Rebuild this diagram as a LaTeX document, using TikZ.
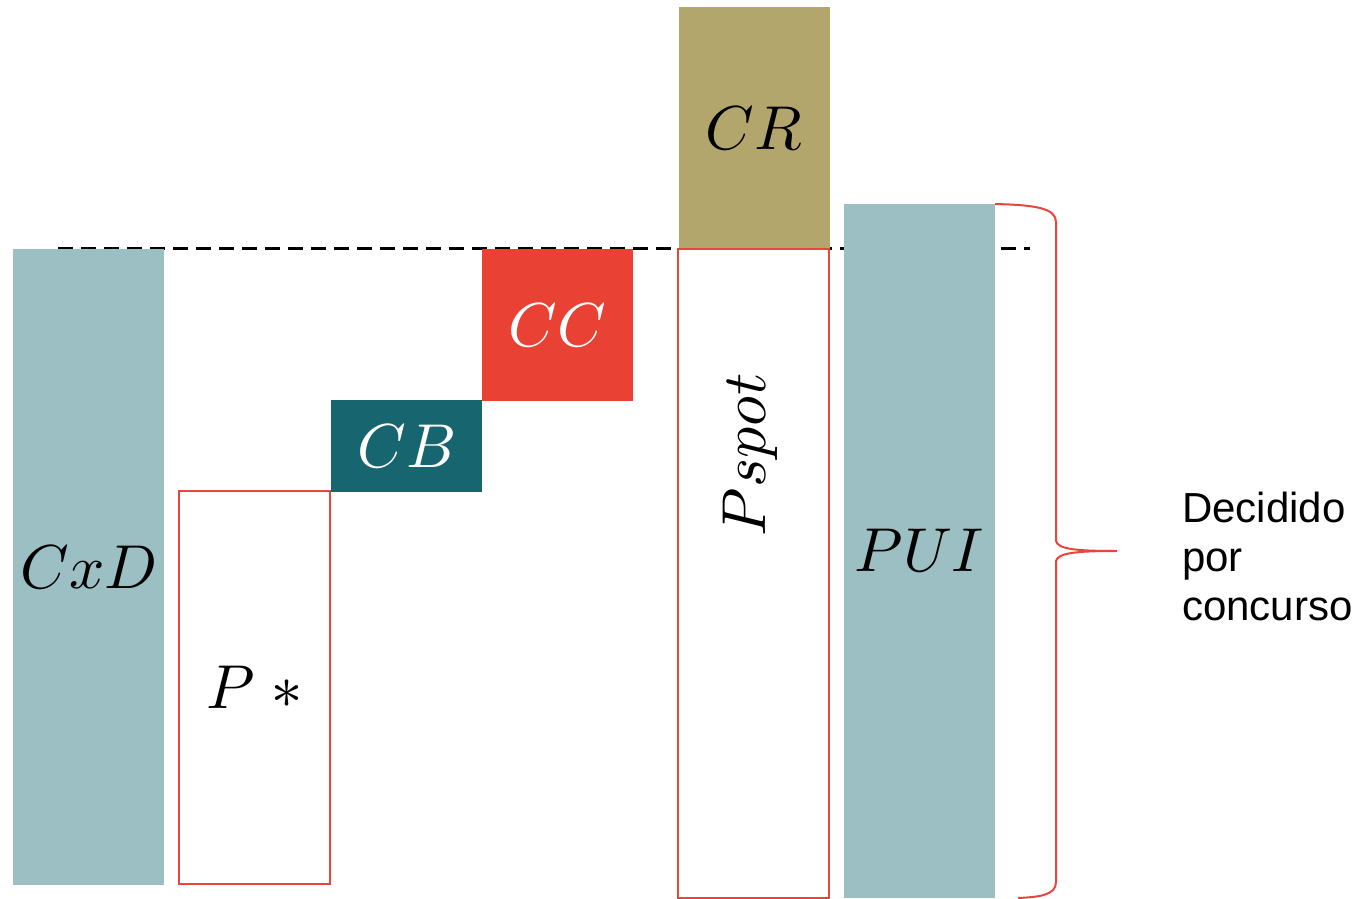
\documentclass[tikz,border=0pt]{standalone}
\usepackage{amsmath}
\usepackage{fontspec}
\usepackage{unicode-math}
\setmathfont{Latin Modern Math}
\usepackage{tikz}
\usetikzlibrary{positioning}
\newfontfamily\labelfont{Liberation Sans}
\definecolor{paleteal}{HTML}{9BBFC2}
\definecolor{darkteal}{HTML}{17666F}
\definecolor{boxred}{HTML}{E94134}
\definecolor{khaki}{HTML}{B3A66D}
\definecolor{linered}{HTML}{E8453C}
\tikzset{bar node/.style={rectangle, inner sep=0pt, outer sep=0pt, minimum width=151pt,
    font=\fontsize{62}{62}\selectfont}}
\tikzset{filled bar/.style={bar node, fill=#1}}
\tikzset{open bar/.style={bar node, draw=linered, line width=1.6pt}}
\tikzset{level line/.style={draw=black, line width=3pt, dash pattern=on 15pt off 8pt}}
\tikzset{brace line/.style={draw=linered, line width=2pt}}
\tikzset{comment/.style={font=\labelfont\fontsize{42}{49}\selectfont, align=left, inner sep=0pt}}

\begin{document}
\begin{tikzpicture}
  [x=1pt, y=-1pt]
  \useasboundingbox (0,0) rectangle (1363,899);

  \coordinate (dash start) at (58,248);
  \coordinate (dash end)   at (1030,248);
  \draw [level line] (dash start) -- (dash end);

  \node [filled bar=paleteal, minimum height=636pt]             (cxd)   at ( 88.5,567)  {$CxD$};
  \node [open bar, minimum height=393pt]                        (pstar) at (254.5,687.5) {$P\;{\ast}$};
  \node [filled bar=darkteal, text=white, minimum height=92pt]  (cb)    at (406,446)    {$CB$};
  \node [filled bar=boxred, text=white, minimum height=152pt]   (cc)    at (557,325)    {$CC$};
  \node [filled bar=khaki, minimum height=242pt]                (cr)    at (754,128)    {$CR$};
  \node [open bar, minimum height=649pt]                        (pspot) at (753.5,573.5) {};
  \node [filled bar=paleteal, minimum height=694pt]             (pui)   at (919.5,551)  {$PUI$};

  \node [font=\fontsize{62}{62}\selectfont, rotate=90, inner sep=0pt] (pspot label) at (750,455) {$Pspot$};

  \coordinate (brace tip) at (1117,551);
  \draw [brace line] (pui.north east) .. controls (1035,205) and (1056,208) .. (1056,222)
    -- (1056,541) .. controls (1058,549) and (1075,551) .. (brace tip)
    .. controls (1075,551) and (1058,553) .. (1056,561)
    -- (1056,882) .. controls (1056,895) and (1040,897) .. (1018,898);

  \node [comment, anchor=west] (decided) at (1182,556) {Decidido\\por\\concurso};
\end{tikzpicture}
\end{document}
